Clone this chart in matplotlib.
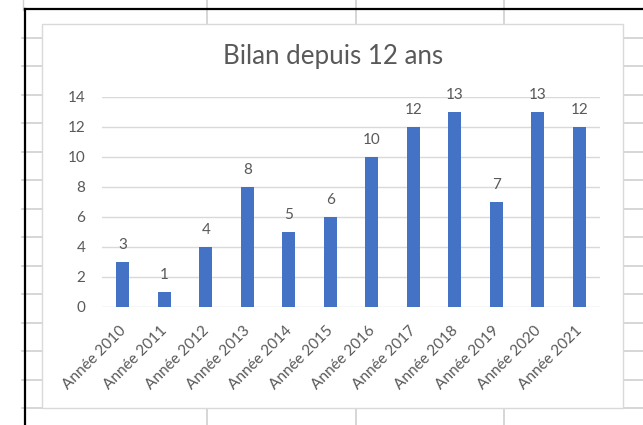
import matplotlib
matplotlib.use("Agg")
import matplotlib.pyplot as plt
import matplotlib.transforms as mtransforms
from matplotlib.lines import Line2D
from matplotlib.patches import Rectangle

# ---- data ----
categories = ["Année 2010", "Année 2011", "Année 2012", "Année 2013", "Année 2014",
              "Année 2015", "Année 2016", "Année 2017", "Année 2018", "Année 2019",
              "Année 2020", "Année 2021"]
values = [3, 1, 4, 8, 5, 6, 10, 12, 13, 7, 13, 12]
y_ticks = [0, 2, 4, 6, 8, 10, 12, 14]
title = "Bilan depuis 12 ans"

W, H = 643, 425
plt.rcParams['font.family'] = ['Lato', 'DejaVu Sans']
fig = plt.figure(figsize=(W / 100, H / 100), dpi=100)
fig.patch.set_facecolor("white")

def fx(px):
    return px / W

def fy(py):
    return 1 - py / H

# ---- spreadsheet background ----
grid_col = "#d0d0d0"
for k in range(14):
    yy = 37.7 + 28.5 * k
    fig.add_artist(Line2D([fx(22), fx(643)], [fy(yy), fy(yy)], color=grid_col, lw=1.2, zorder=0))
for xx in [207, 356, 504]:
    fig.add_artist(Line2D([fx(xx), fx(xx)], [fy(0), fy(425)], color=grid_col, lw=1.2, zorder=0))
fig.add_artist(Line2D([fx(23), fx(23)], [fy(0), fy(10)], color=grid_col, lw=1.0, zorder=0))
# black selection border
fig.add_artist(Line2D([fx(25), fx(25)], [fy(9.3), fy(425)], color="black", lw=1.6, zorder=1))
fig.add_artist(Line2D([fx(25), fx(643)], [fy(9.3), fy(9.3)], color="black", lw=1.6, zorder=1))

# chart area
fig.add_artist(Rectangle((fx(42), fy(408)), fx(623) - fx(42), fy(24.3) - fy(408),
                         facecolor="white", edgecolor="#d9d9d9", lw=1.0, zorder=2))

# ---- plot area ----
ax = fig.add_axes([fx(102), fy(306.7), fx(600) - fx(102), fy(96.7) - fy(306.7)], zorder=3)
ax.patch.set_alpha(0)
x = list(range(len(categories)))
bars = ax.bar(x, values, width=0.31, color="#4472C4", zorder=3)
ax.set_xlim(-0.5, len(categories) - 0.5)
ax.set_ylim(0, 14)
ax.set_yticks(y_ticks)
ax.yaxis.grid(True, color="#d9d9d9", lw=1.0, zorder=0)
ax.set_axisbelow(True)
for s in ax.spines.values():
    s.set_visible(False)

text_col = "#595959"
ax.tick_params(axis="y", length=0, pad=12, labelsize=11, labelcolor=text_col)
ax.tick_params(axis="x", length=0, pad=12, labelsize=11, labelcolor=text_col)
ax.set_xticks(x)
ax.set_xticklabels(categories, rotation=45, ha="right", va="top", rotation_mode="anchor")
offset = mtransforms.ScaledTranslation(-4 / 100, 0, fig.dpi_scale_trans)
for lab in ax.get_xticklabels():
    lab.set_transform(lab.get_transform() + offset)

ax.bar_label(bars, labels=[str(v) for v in values], padding=7, fontsize=11, color=text_col)

fig.text(fx(333), fy(64), title, ha="center", va="baseline", fontsize=18.6, color=text_col)

fig.savefig("out.png", dpi=100)
